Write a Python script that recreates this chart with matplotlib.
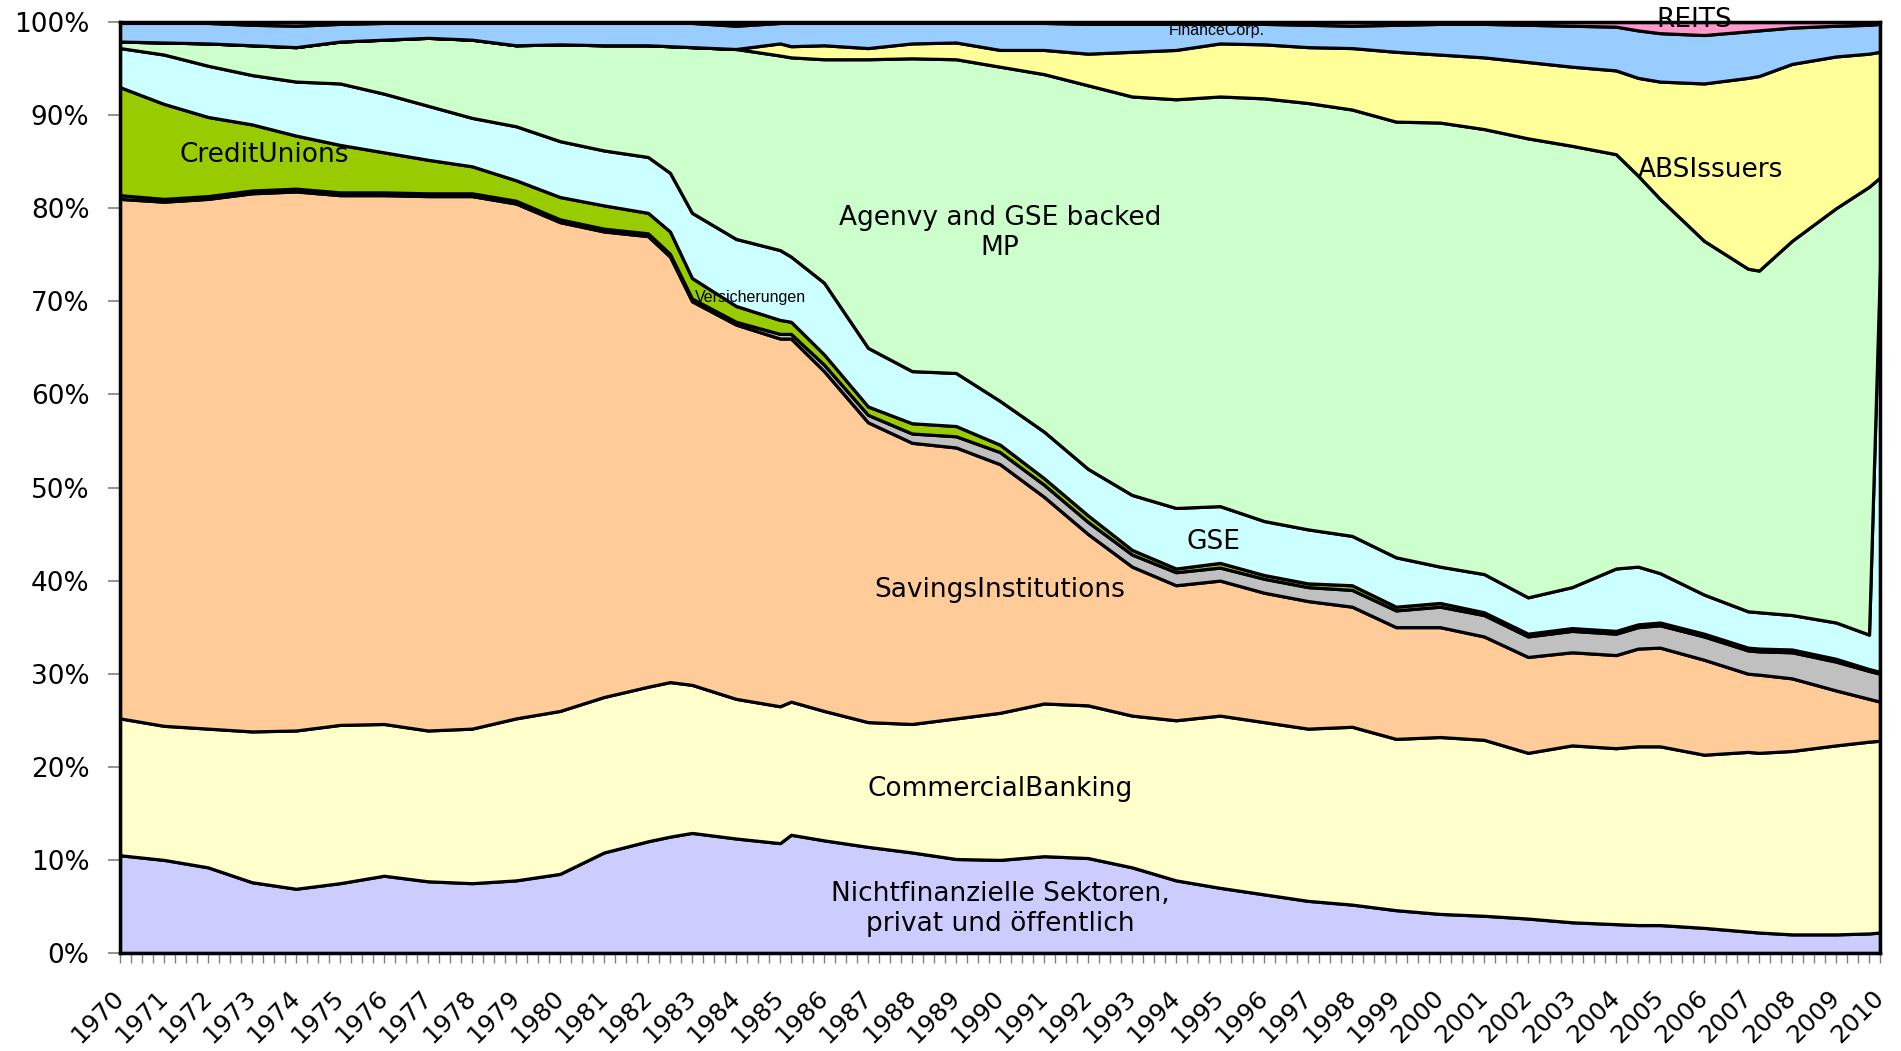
import numpy as np
import matplotlib
matplotlib.use("Agg")
import matplotlib.pyplot as plt
from matplotlib.transforms import ScaledTranslation

# ---- data (share of mortgage holdings, %) ----
x = [1970, 1971, 1972, 1973, 1974, 1975, 1976, 1977, 1978, 1979, 1980, 1981,
     1982, 1982.5, 1983, 1984, 1985, 1985.25, 1986, 1987, 1988, 1989, 1990,
     1991, 1992, 1993, 1994, 1995, 1996, 1997, 1998, 1999, 2000, 2001, 2002,
     2003, 2004, 2004.5, 2005, 2006, 2007, 2007.25, 2008, 2009, 2009.75, 2010]

nonfin = [10.5, 10.0, 9.2, 7.6, 6.9, 7.5, 8.3, 7.7, 7.5, 7.8, 8.5, 10.8,
          12.0, 12.5, 12.9, 12.3, 11.8, 12.7, 12.1, 11.4, 10.8, 10.1, 10.0,
          10.4, 10.2, 9.2, 7.8, 7.0, 6.3, 5.6, 5.2, 4.6, 4.2, 4.0, 3.7,
          3.3, 3.1, 3.0, 3.0, 2.7, 2.3, 2.2, 2.0, 2.0, 2.1, 2.2]
commercial = [14.7, 14.4, 14.9, 16.2, 17.0, 17.0, 16.3, 16.2, 16.6, 17.4, 17.5, 16.7,
              16.6, 16.6, 15.9, 15.0, 14.7, 14.3, 13.9, 13.4, 13.8, 15.1, 15.8,
              16.4, 16.4, 16.3, 17.2, 18.5, 18.5, 18.5, 19.1, 18.4, 19.0, 18.9, 17.8,
              19.0, 18.9, 19.2, 19.2, 18.6, 19.3, 19.3, 19.7, 20.3, 20.6, 20.6]
savings = [55.8, 56.3, 56.9, 57.8, 57.9, 56.9, 56.8, 57.4, 57.2, 55.3, 52.5, 50.0,
           48.4, 45.7, 41.2, 40.2, 39.5, 39.0, 36.5, 32.2, 30.2, 29.1, 26.7,
           22.2, 18.4, 16.0, 14.5, 14.5, 13.9, 13.7, 12.9, 12.0, 11.8, 11.1, 10.3,
           10.0, 10.0, 10.5, 10.6, 10.2, 8.4, 8.4, 7.8, 5.9, 4.6, 4.2]
credit_unions = [0.4, 0.3, 0.3, 0.3, 0.3, 0.3, 0.3, 0.3, 0.3, 0.3, 0.3, 0.3,
                 0.3, 0.3, 0.3, 0.3, 0.5, 0.5, 0.7, 0.8, 1.0, 1.2, 1.3,
                 1.3, 1.3, 1.3, 1.4, 1.4, 1.5, 1.5, 1.8, 1.8, 2.2, 2.3, 2.2,
                 2.3, 2.3, 2.3, 2.4, 2.5, 2.5, 2.5, 2.8, 3.1, 3.0, 3.0]
insurance = [11.6, 10.2, 8.5, 7.1, 5.7, 5.1, 4.3, 3.6, 2.9, 2.2, 2.4, 2.5,
             2.2, 2.4, 2.2, 1.7, 1.5, 1.3, 1.1, 0.9, 1.1, 1.1, 0.8,
             0.7, 0.7, 0.5, 0.4, 0.5, 0.4, 0.4, 0.5, 0.4, 0.4, 0.3, 0.3,
             0.3, 0.3, 0.3, 0.3, 0.3, 0.3, 0.3, 0.3, 0.3, 0.2, 0.2]
gse = [4.2, 5.3, 5.5, 5.3, 5.8, 6.6, 6.3, 5.8, 5.2, 5.8, 6.0, 5.9,
       6.0, 6.3, 7.0, 7.2, 7.5, 7.0, 7.7, 6.3, 5.6, 5.7, 4.7,
       5.0, 5.0, 5.9, 6.5, 6.1, 5.8, 5.8, 5.3, 5.3, 3.9, 4.1, 3.9,
       4.4, 6.7, 6.2, 5.3, 4.2, 3.9, 3.9, 3.7, 3.9, 3.7, 43.8]
agency_mp = [0.7, 1.3, 2.4, 3.2, 3.7, 4.5, 5.8, 7.3, 8.4, 8.7, 10.4, 11.3,
             12.0, 13.6, 17.8, 20.4, 20.9, 21.4, 24.0, 31.0, 33.6, 33.7, 35.9,
             38.4, 41.2, 42.8, 43.9, 44.0, 45.4, 45.8, 45.8, 46.8, 47.7, 47.8, 49.3,
             47.4, 44.5, 42.0, 40.2, 38.0, 36.8, 36.7, 40.2, 44.5, 48.1, 9.3]
abs_issuers = [0.0, 0.0, 0.0, 0.0, 0.0, 0.0, 0.0, 0.0, 0.0, 0.0, 0.0, 0.0,
               0.0, 0.0, 0.0, 0.0, 1.3, 1.2, 1.5, 1.2, 1.6, 1.8, 1.8,
               2.6, 3.4, 4.8, 5.3, 5.7, 5.8, 6.0, 6.6, 7.5, 7.3, 7.7, 8.2,
               8.5, 9.0, 10.5, 12.6, 16.9, 20.5, 20.9, 19.0, 16.3, 14.3, 13.5]
finance_corp = [2.0, 2.1, 2.2, 2.2, 2.3, 1.9, 1.8, 1.6, 1.8, 2.4, 2.3, 2.4,
                2.4, 2.5, 2.6, 2.5, 2.2, 2.5, 2.4, 2.7, 2.2, 2.1, 2.9,
                2.9, 3.2, 3.0, 2.8, 2.1, 2.2, 2.4, 2.4, 2.9, 3.3, 3.6, 4.0,
                4.4, 4.7, 5.1, 5.2, 5.2, 5.0, 4.9, 3.9, 3.3, 3.1, 3.0]
reits = [0.1, 0.1, 0.1, 0.3, 0.4, 0.2, 0.1, 0.1, 0.1, 0.1, 0.1, 0.1,
         0.1, 0.1, 0.1, 0.1, 0.1, 0.1, 0.1, 0.1, 0.1, 0.1, 0.1,
         0.1, 0.2, 0.2, 0.2, 0.2, 0.2, 0.3, 0.4, 0.3, 0.2, 0.2, 0.3,
         0.4, 0.5, 0.9, 1.2, 1.4, 1.0, 0.9, 0.6, 0.4, 0.3, 0.2]

series = [nonfin, commercial, savings, credit_unions, insurance, gse,
          agency_mp, abs_issuers, finance_corp, reits]
colors = ["#CCCCFF", "#FFFFCC", "#FFCC99", "#C0C0C0", "#99CC00", "#CCFFFF",
          "#CCFFCC", "#FFFF99", "#99CCFF", "#FF99CC"]

year_labels = [str(y) for y in range(1970, 2011)]
y_tick_labels = [f"{v}%" for v in range(0, 101, 10)]

# ---- figure ----
plt.rcParams['font.family'] = ['DejaVu Sans']
fig = plt.figure(figsize=(19.01, 10.51), dpi=100)
ax = fig.add_axes([120 / 1901, 98 / 1051, 1760 / 1901, 931 / 1051])

ax.stackplot(x, *series, colors=colors, edgecolor="black", linewidth=2.3)

ax.set_xlim(1970, 2010)
ax.set_ylim(0, 100)

ax.set_yticks(range(0, 101, 10))
ax.set_yticklabels(y_tick_labels, fontsize=19)
ax.tick_params(axis="y", length=9, width=1.2, color="#808080", pad=13)

years = list(range(1970, 2011))
ax.set_xticks(years)
ax.set_xticklabels(year_labels, fontsize=18, rotation=45, ha="right", va="top")
ax.set_xticks(np.arange(1970, 2010.01, 0.25), minor=True)
ax.tick_params(axis="x", which="both", length=7, width=1.0, color="#808080", pad=16.5)
for lab in ax.get_xticklabels():
    lab.set_transform(lab.get_transform() + ScaledTranslation(9 / 100, 0, fig.dpi_scale_trans))

for s in ax.spines.values():
    s.set_linewidth(2.5)
    s.set_color("black")
    s.set_zorder(5)

# ---- labels ----
big = dict(fontsize=19, ha="center", va="center", color="black")
ax.text(1990.0, 77.3, "Agenvy and GSE backed\nMP", **big)
ax.text(1990.0, 39.0, "SavingsInstitutions", **big)
ax.text(1990.0, 17.6, "CommercialBanking", **big)
ax.text(1990.0, 4.7, "Nichtfinanzielle Sektoren,\nprivat und öffentlich", **big)
ax.text(1973.27, 85.7, "CreditUnions", **big)
ax.text(1994.84, 44.1, "GSE", **big)
ax.text(2006.14, 84.1, "ABSIssuers", **big)
ax.text(2005.77, 100.2, "REITS", clip_on=False, zorder=6, **big)
small = dict(fontsize=11.5, ha="center", va="center", color="black",
             family=["Liberation Sans", "DejaVu Sans"])
ax.text(1994.93, 99.1, "FinanceCorp.", **small)
ax.text(1984.34, 70.4, "Versicherungen", **small)

fig.savefig("out.png", dpi=100)
